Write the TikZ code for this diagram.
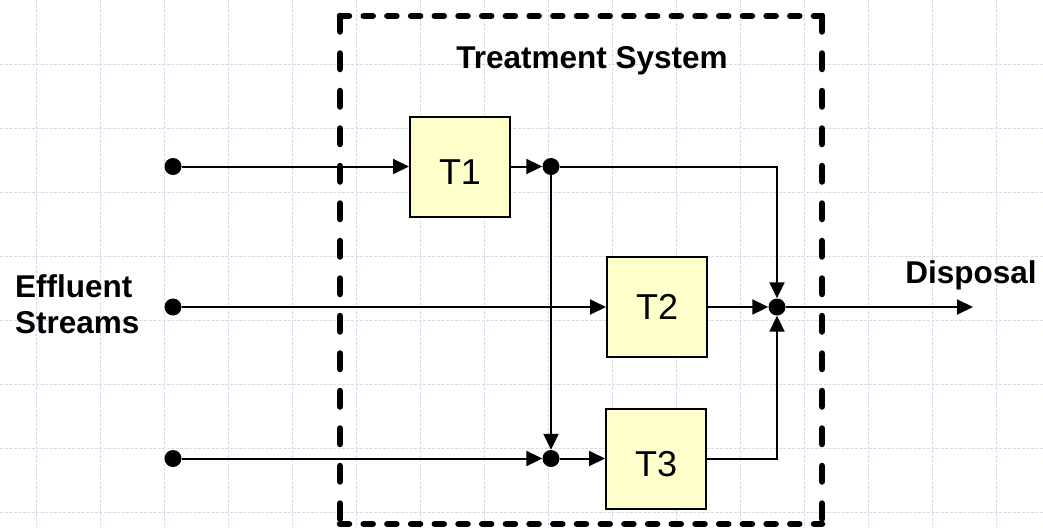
\documentclass[tikz,border=0pt]{standalone}
\usepackage{fontspec}
\setmainfont{Liberation Sans}
\usetikzlibrary{arrows.meta}
\definecolor{tyellow}{RGB}{255,255,204}
\definecolor{gridblue}{RGB}{210,220,250}
\begin{document}
\begin{tikzpicture}[x=1pt,y=-1pt,
  gridline/.style={draw=gridblue, line width=0.8pt, dash pattern=on 3pt off 1.5pt},
  box/.style={draw, line width=2pt, fill=tyellow, minimum size=100pt, inner sep=0pt, font=\fontsize{36}{40}\selectfont},
  lowtext/.style={text height=36pt, text depth=0pt},
  jdot/.style={circle, fill=black, inner sep=0pt, minimum size=17pt},
  flow/.style={line width=2pt, -{Triangle[length=16pt,width=15pt]}},
  lbl/.style={font=\bfseries\fontsize{31.5}{36.6}\selectfont, inner sep=0pt},
  hdash/.style={line width=6.5pt, line cap=round, dash pattern=on 9pt off 14.7pt},
  vdash/.style={line width=6.5pt, line cap=round, dash pattern=on 15.5pt off 22pt}
]
\useasboundingbox (0,0) rectangle (1043,528);
\fill[white] (0,0) rectangle (1043,528);
% grid
\foreach \x in {36,100,...,996} \draw[gridline] (\x,0) -- (\x,528);
\foreach \y in {64,128,...,512} \draw[gridline] (0,\y) -- (1043,\y);
% nodes
\node[box, lowtext] (t1) at (460,166.5) {T1};
\node[box] (t2) at (657,307) {T2};
\node[box, lowtext] (t3) at (656,458.5) {T3};
\node[jdot] (s1) at (173,166.5) {};
\node[jdot] (s2) at (173,307) {};
\node[jdot] (s3) at (173,458.5) {};
\node[jdot] (j1) at (551,166.5) {};
\node[jdot] (j2) at (777,307) {};
\node[jdot] (j3) at (551,458.5) {};
\coordinate (out) at (973,307);
% connectors
\draw[flow] (s1) -- (t1);
\draw[flow] (t1) -- (j1);
\draw[flow] (j1) -- (j3);
\draw[flow] (s2) -- (t2);
\draw[flow] (t2) -- (j2);
\draw[flow] (s3) -- (j3);
\draw[flow] (j3) -- (t3);
\draw[flow] (j1) -| (j2);
\draw[flow] (t3) -| (j2);
\draw[flow] (j2) -- (out);
% dashed system boundary
\coordinate (bl) at (340,524);
\coordinate (tl) at (340,16);
\coordinate (tr) at (822,16);
\coordinate (br) at (822,524);
\draw[hdash] (tl) -- (tr);
\draw[hdash] (bl) -- (br);
\draw[vdash] (tl) -- (bl);
\draw[vdash] (tr) -- (br);
% labels
\node[lbl, anchor=base] (title) at (592,68) {Treatment System};
\node[lbl, anchor=base] (disp) at (971,283) {Disposal};
\node[lbl, anchor=base west, align=left] (eff) at (15,333.6) {Effluent\\Streams};
\end{tikzpicture}
\end{document}
